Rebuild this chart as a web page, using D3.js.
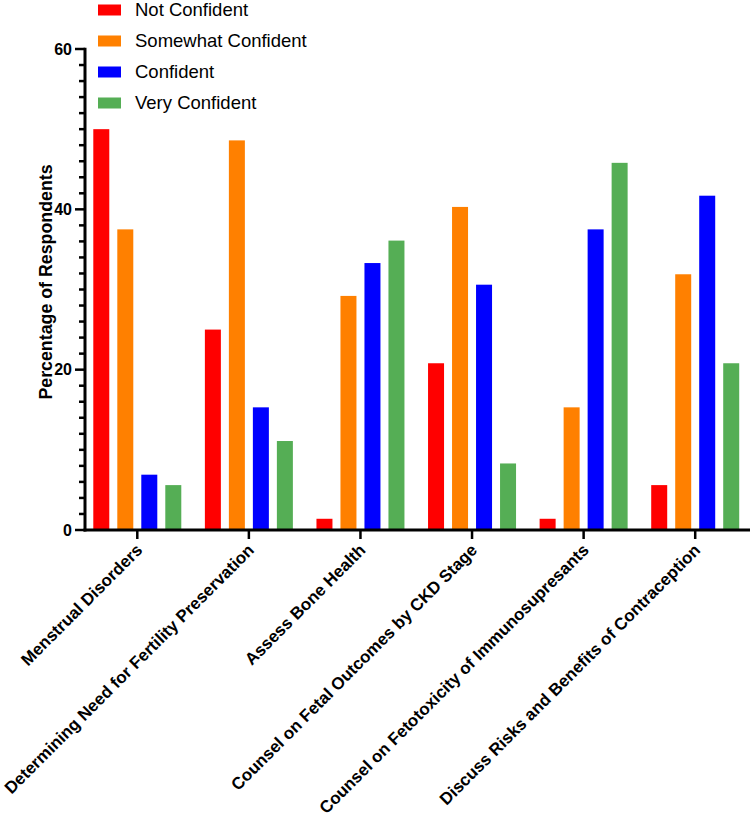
<!DOCTYPE html>
<html><head><meta charset="utf-8">
<script src="https://cdn.jsdelivr.net/npm/d3@7"></script>
<style>body{margin:0;background:#fff}svg{display:block}text{font-family:"Liberation Sans",Arial,sans-serif}</style>
</head><body><svg id="c" width="750" height="831"></svg>
<script>
const categories = ["Menstrual Disorders","Determining Need for Fertility Preservation","Assess Bone Health","Counsel on Fetal Outcomes by CKD Stage","Counsel on Fetotoxicity of Immunosupresants","Discuss Risks and Benefits of Contraception"];
const seriesNames = ["Not Confident","Somewhat Confident","Confident","Very Confident"];
const notConfident = [50.0, 25.0, 1.4, 20.8, 1.4, 5.6];
const somewhatConfident = [37.5, 48.6, 29.2, 40.3, 15.3, 31.9];
const confident = [6.9, 15.3, 33.3, 30.6, 37.5, 41.7];
const veryConfident = [5.6, 11.1, 36.1, 8.3, 45.8, 20.8];
const colors = ["#FF0000","#FF8000","#0000FF","#55AE55"];
const yTicks = [0,20,40,60];

const series = [notConfident, somewhatConfident, confident, veryConfident];
const svg = d3.select("#c");
const x0 = 85, yBase = 530, yTop = 49;
const x = d3.scaleBand().domain(categories).range([81.5, 751]).paddingInner(0).paddingOuter(0);
const y = d3.scaleLinear().domain([0,60]).range([yBase, yTop]);
const barW = 16, step = 24;
categories.forEach((c,i)=>{
  const cx = x(c) + x.bandwidth()/2;
  series.forEach((s,j)=>{
    const v = s[i];
    svg.append("rect")
      .attr("x", cx - 44 + j*step)
      .attr("y", y(v))
      .attr("width", barW)
      .attr("height", yBase - y(v))
      .attr("fill", colors[j]);
  });
});

// y axis
const yAxisG = svg.append("g").attr("transform",`translate(${x0},0)`);
d3.range(0,61,2).forEach(v=>{
  const major = v%20===0;
  yAxisG.append("line").attr("x1", major? -10 : -6).attr("x2",0)
    .attr("y1", y(v)).attr("y2", y(v)).attr("stroke","#000").attr("stroke-width",2.5);
});
yAxisG.append("line").attr("x1",0).attr("x2",0).attr("y1",y(60)-1.25).attr("y2",yBase+1.5).attr("stroke","#000").attr("stroke-width",3);
yTicks.forEach(v=>{
  yAxisG.append("text").attr("x",-13).attr("y",y(v)).attr("dy","0.36em")
    .attr("text-anchor","end").attr("font-weight","bold").attr("font-size",16).text(v);
});

// x axis
svg.append("line").attr("x1",x0-1.5).attr("x2",751).attr("y1",yBase).attr("y2",yBase).attr("stroke","#000").attr("stroke-width",3);
categories.forEach(c=>{
  const cx = x(c)+x.bandwidth()/2;
  svg.append("line").attr("x1",cx).attr("x2",cx).attr("y1",yBase).attr("y2",yBase+9).attr("stroke","#000").attr("stroke-width",2.5);
  svg.append("text").attr("transform",`translate(${cx+2},${yBase+17}) rotate(-45)`)
    .attr("text-anchor","end").attr("dy","0.35em").attr("font-weight","bold").attr("font-size",16.9).text(c);
});

// y title
svg.append("text").attr("transform",`translate(52,${282}) rotate(-90)`)
  .attr("text-anchor","middle").attr("font-weight","bold").attr("font-size",17.8).text("Percentage of Respondents");

// legend
seriesNames.forEach((n,i)=>{
  const ly = 10 + i*31;
  svg.append("rect").attr("x",98).attr("y",ly-5.5).attr("width",23).attr("height",11).attr("fill",colors[i]);
  svg.append("text").attr("x",135).attr("y",ly).attr("dy","0.35em").attr("font-size",18.5).text(n);
});
</script></body></html>
